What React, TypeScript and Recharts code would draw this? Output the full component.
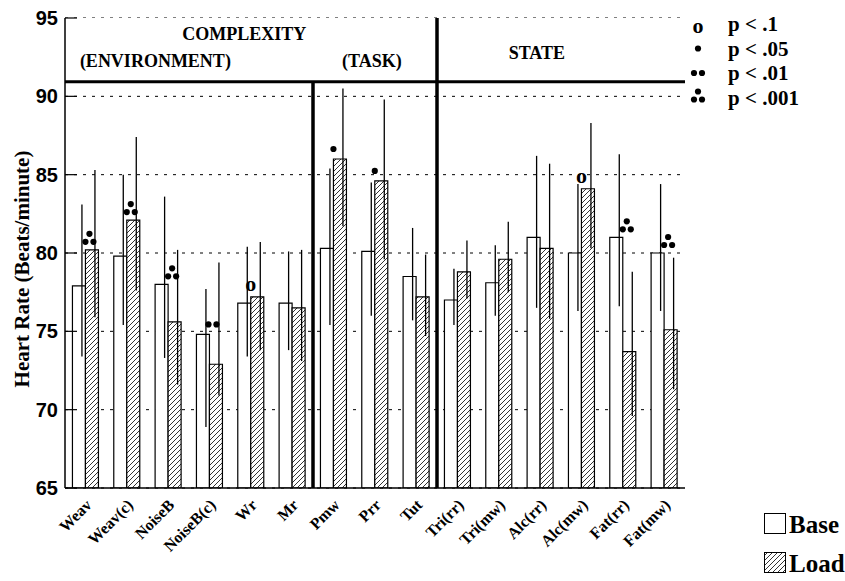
import {
  BarChart,
  Bar,
  XAxis,
  YAxis,
  CartesianGrid,
  ErrorBar,
  LabelList,
  ReferenceArea,
  ReferenceLine,
  Legend,
} from 'recharts';

const categories = [
  'Weav', 'Weav(c)', 'NoiseB', 'NoiseB(c)', 'Wr', 'Mr', 'Pmw', 'Prr', 'Tut',
  'Tri(rr)', 'Tri(mw)', 'Alc(rr)', 'Alc(mw)', 'Fat(rr)', 'Fat(mw)',
];
const baseMean = [77.9, 79.8, 78.0, 74.8, 76.8, 76.8, 80.3, 80.1, 78.5, 77.0, 78.1, 81.0, 80.0, 81.0, 80.0];
const loadMean = [80.2, 82.1, 75.6, 72.9, 77.2, 76.5, 86.0, 84.6, 77.2, 78.8, 79.6, 80.3, 84.1, 73.7, 75.1];
const baseLow = [73.4, 75.4, 73.3, 68.9, 73.4, 73.8, 75.4, 76.0, 75.7, 75.4, 76.0, 76.5, 76.3, 76.6, 76.3];
const baseHigh = [83.1, 85.0, 83.6, 77.7, 80.4, 80.1, 85.4, 84.5, 81.6, 79.0, 80.5, 86.2, 84.4, 86.3, 84.4];
const loadLow = [75.9, 77.6, 71.6, 70.9, 73.8, 73.1, 81.7, 79.6, 74.7, 77.1, 77.5, 75.8, 80.3, 69.6, 71.3];
const loadHigh = [85.3, 87.4, 80.2, 79.4, 80.7, 80.2, 90.5, 89.8, 79.9, 80.8, 82.0, 85.7, 88.3, 78.8, 79.7];
// o = p<.1, * = p<.05, ** = p<.01, *** = p<.001
const significance = ['***', '***', '***', '**', 'o', '', '*', '*', '', '', '', '', 'o', '***', '***'];

const yTicks = [65, 70, 75, 80, 85, 90, 95];
const headerBottom = 90.93;

const sigLegend = [
  { mark: 'o', text: 'p < .1' },
  { mark: '*', text: 'p < .05' },
  { mark: '**', text: 'p < .01' },
  { mark: '***', text: 'p < .001' },
];

const data = categories.map((name, i) => ({
  name,
  base: baseMean[i],
  load: loadMean[i],
  baseErr: [baseMean[i] - baseLow[i], baseHigh[i] - baseMean[i]],
  loadErr: [loadMean[i] - loadLow[i], loadHigh[i] - loadMean[i]],
  sigLoad: loadMean[i] >= baseMean[i] ? significance[i] : '',
  sigBase: baseMean[i] > loadMean[i] ? significance[i] : '',
}));

const SERIF = '"Liberation Serif", "Times New Roman", serif';
const SANS = '"Liberation Sans", Arial, sans-serif';

function Dots({ cx, y, mark }: { cx: number; y: number; mark: string }) {
  if (mark === 'o') {
    return (
      <text x={cx} y={y + 4} textAnchor="middle" fontFamily={SERIF} fontWeight="bold" fontSize={22}>
        o
      </text>
    );
  }
  const pts =
    mark === '*' ? [[0, 0]] : mark === '**' ? [[-4, 0], [4, 0]] : [[-4, 0], [4, 0], [0, -8]];
  return (
    <g>
      {pts.map(([dx, dy], k) => (
        <circle key={k} cx={cx + dx} cy={y + dy} r={3.1} fill="#000" />
      ))}
    </g>
  );
}

function SigLoad(props: any) {
  const { x, y, value } = props;
  if (!value) return null;
  const lift = value === '***' ? 8 : 10;
  const dx = value === '***' ? 4 : value === '**' ? 3 : 0;
  return <Dots cx={x + dx} y={y - lift} mark={value} />;
}

function SigBase(props: any) {
  const { x, y, width, value } = props;
  if (!value) return null;
  const lift = value === '***' ? 8 : 10;
  const dx = value === '***' ? 4 : value === '**' ? 3 : 0;
  return <Dots cx={x + width + dx} y={y - lift} mark={value} />;
}

function XTick({ x, y, payload }: any) {
  return (
    <g transform={`translate(${x + 7},${y + 10}) rotate(-45)`}>
      <text textAnchor="end" fontFamily={SERIF} fontWeight="bold" fontSize={16} fill="#000">
        {payload.value}
      </text>
    </g>
  );
}

function YTick({ x, y, payload }: any) {
  return (
    <g>
      <line x1={x + 6} x2={x + 18} y1={y} y2={y} stroke="#000" strokeWidth={1.2} />
      <text x={x - 1} y={y + 7} textAnchor="end" fontFamily={SANS} fontWeight="bold" fontSize={20} fill="#000">
        {payload.value}
      </text>
    </g>
  );
}

function YLabel({ viewBox }: any) {
  const cx = viewBox.x + 22;
  const cy = viewBox.y + viewBox.height / 2 + 16;
  return (
    <text
      x={cx}
      y={cy}
      transform={`rotate(-90, ${cx}, ${cy})`}
      textAnchor="middle"
      dominantBaseline="central"
      fontFamily={SERIF}
      fontWeight="bold"
      fontSize={21}
    >
      Heart Rate (Beats/minute)
    </text>
  );
}

function HeaderText({ viewBox }: any) {
  const { x, y, width } = viewBox;
  const common = { fontFamily: SERIF, fontWeight: 'bold', fontSize: 18, fill: '#000' };
  return (
    <g>
      <text x={x + width * 0.289} y={y + 22} textAnchor="middle" {...common}>COMPLEXITY</text>
      <text x={x + width * 0.024} y={y + 49} textAnchor="start" {...common}>(ENVIRONMENT)</text>
      <text x={x + width * 0.495} y={y + 49} textAnchor="middle" {...common}>(TASK)</text>
      <text x={x + width * 0.761} y={y + 41} textAnchor="middle" {...common}>STATE</text>
    </g>
  );
}

function LegendPanel() {
  return (
    <svg width={845} height={581} style={{ position: 'absolute', left: 0, top: 0 }}>
      <defs>
        <pattern id="hatchLegend" patternUnits="userSpaceOnUse" width={5} height={5}>
          <rect width={5} height={5} fill="#fff" />
          <path d="M-1,1 l2,-2 M0,5 l5,-5 M4,6 l2,-2" stroke="#000" strokeWidth={0.8} />
        </pattern>
      </defs>
      {sigLegend.map((item, i) => {
        const y = 31 + i * 24.5;
        return (
          <g key={item.text}>
            <Dots cx={698} y={item.mark === 'o' ? y - 2 : y - 7 + (item.mark === '***' ? 2 : 0)} mark={item.mark} />
            <text x={728} y={y} fontFamily={SERIF} fontWeight="bold" fontSize={21} fill="#000">
              {item.text}
            </text>
          </g>
        );
      })}
      <rect x={764.5} y={513.5} width={21} height={20} fill="#fff" stroke="#000" />
      <text x={789} y={533} fontFamily={SERIF} fontWeight="bold" fontSize={25} fill="#000">Base</text>
      <rect x={764.5} y={552.5} width={21} height={20} fill="url(#hatchLegend)" stroke="#000" />
      <text x={789} y={572} fontFamily={SERIF} fontWeight="bold" fontSize={25} fill="#000">Load</text>
    </svg>
  );
}

export default function App() {
  return (
    <div style={{ position: 'absolute', left: 0, top: 0, width: 845, height: 581, background: '#fff' }}>
      <style>{'.recharts-errorBars { transform: translateX(3px); }'}</style>
      <BarChart
        width={845}
        height={581}
        data={data}
        margin={{ top: 18, right: 160, left: 0, bottom: 0 }}
        barCategoryGap="18%"
        barGap={0}
      >
        <defs>
          <pattern id="hatch" patternUnits="userSpaceOnUse" width={5} height={5}>
            <rect width={5} height={5} fill="#fff" />
            <path d="M-1,1 l2,-2 M0,5 l5,-5 M4,6 l2,-2" stroke="#000" strokeWidth={0.8} />
          </pattern>
        </defs>
        <CartesianGrid horizontal vertical={false} stroke="#000" strokeDasharray="3 6" />
        <XAxis
          dataKey="name"
          interval={0}
          tickLine={false}
          axisLine={{ stroke: '#000', strokeWidth: 1.5 }}
          height={93}
          tick={<XTick />}
        />
        <YAxis
          domain={[65, 95]}
          ticks={yTicks}
          allowDataOverflow
          width={65}
          tickSize={0}
          tickMargin={6}
          axisLine={{ stroke: '#000', strokeWidth: 1.5 }}
          tick={<YTick />}
          label={<YLabel />}
        />
        <Bar dataKey="base" fill="#fff" stroke="#000" strokeWidth={1.2} isAnimationActive={false}>
          <ErrorBar dataKey="baseErr" width={0} stroke="#000" strokeWidth={1.3} />
          <LabelList dataKey="sigBase" content={<SigBase />} />
        </Bar>
        <Bar dataKey="load" fill="url(#hatch)" stroke="#000" strokeWidth={1.2} isAnimationActive={false}>
          <ErrorBar dataKey="loadErr" width={0} stroke="#000" strokeWidth={1.3} />
          <LabelList dataKey="sigLoad" content={<SigLoad />} />
        </Bar>
        <ReferenceArea y1={headerBottom} y2={95} fill="#fff" fillOpacity={1} stroke="none" label={<HeaderText />} />
        <ReferenceArea fill="none" stroke="#000" strokeWidth={1.5} />
        <ReferenceLine y={headerBottom} stroke="#000" strokeWidth={3} />
        <ReferenceLine
          segment={[{ x: 'Pmw', y: headerBottom }, { x: 'Pmw', y: 65 }]}
          position="start"
          stroke="#000"
          strokeWidth={3.5}
        />
        <ReferenceLine x="Tri(rr)" position="start" stroke="#000" strokeWidth={3.5} />
        <Legend
          content={<LegendPanel />}
          layout="horizontal"
          verticalAlign="middle"
          align="center"
          wrapperStyle={{ left: 0, top: 0, width: 845, height: 581, pointerEvents: 'none' }}
        />
      </BarChart>
    </div>
  );
}
